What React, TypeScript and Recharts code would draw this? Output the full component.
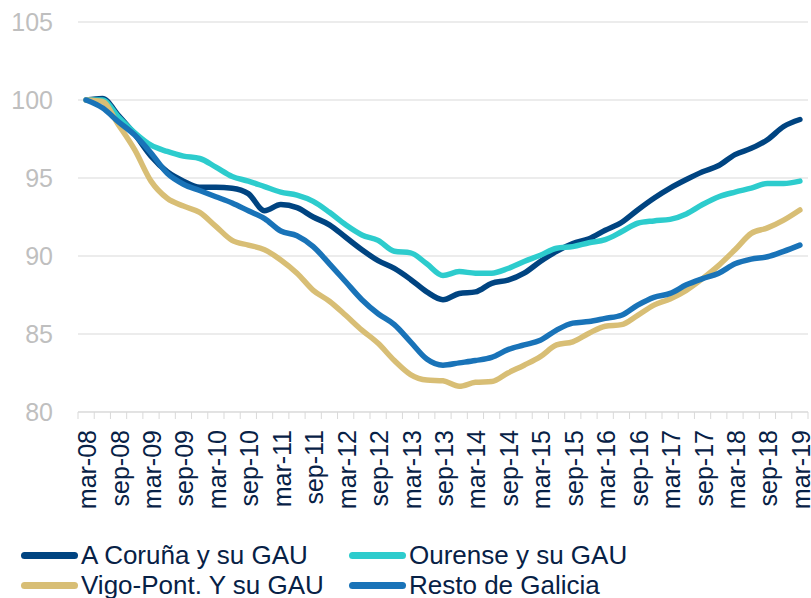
import { LineChart, Line, XAxis, YAxis, CartesianGrid } from 'recharts';

const quarters = [
  'mar-08', 'jun-08', 'sep-08', 'dic-08',
  'mar-09', 'jun-09', 'sep-09', 'dic-09',
  'mar-10', 'jun-10', 'sep-10', 'dic-10',
  'mar-11', 'jun-11', 'sep-11', 'dic-11',
  'mar-12', 'jun-12', 'sep-12', 'dic-12',
  'mar-13', 'jun-13', 'sep-13', 'dic-13',
  'mar-14', 'jun-14', 'sep-14', 'dic-14',
  'mar-15', 'jun-15', 'sep-15', 'dic-15',
  'mar-16', 'jun-16', 'sep-16', 'dic-16',
  'mar-17', 'jun-17', 'sep-17', 'dic-17',
  'mar-18', 'jun-18', 'sep-18', 'dic-18',
  'mar-19',
];

const coruna = [
  100, 100.1, 99.0, 97.8, 96.4, 95.4, 94.8, 94.4, 94.4, 94.35, 94.0, 92.9,
  93.3, 93.1, 92.5, 92.0, 91.2, 90.4, 89.7, 89.2, 88.5, 87.7, 87.2, 87.6,
  87.7, 88.25, 88.45, 88.9, 89.65, 90.3, 90.8, 91.1, 91.65, 92.15, 92.95, 93.7,
  94.35, 94.9, 95.4, 95.8, 96.5, 96.9, 97.45, 98.3, 98.75,
];

const ourense = [
  100, 100.0, 98.9, 97.9, 97.1, 96.7, 96.4, 96.25, 95.7, 95.1, 94.8, 94.45,
  94.1, 93.9, 93.5, 92.8, 92.0, 91.35, 91.0, 90.3, 90.2, 89.5, 88.75, 89.0,
  88.9, 88.9, 89.2, 89.65, 90.05, 90.5, 90.6, 90.85, 91.05, 91.55, 92.1, 92.25,
  92.35, 92.7, 93.3, 93.8, 94.1, 94.35, 94.65, 94.65, 94.8,
];

const vigo = [
  100, 99.9, 98.4, 96.8, 94.8, 93.7, 93.2, 92.8, 91.9, 91.0, 90.7, 90.4,
  89.75, 88.9, 87.8, 87.1, 86.2, 85.25, 84.4, 83.3, 82.4, 82.05, 82.0, 81.65,
  81.9, 81.95, 82.5, 83.0, 83.55, 84.3, 84.5, 85.05, 85.5, 85.6, 86.2, 86.85,
  87.25, 87.8, 88.55, 89.4, 90.4, 91.45, 91.8, 92.3, 92.95,
];

const resto = [
  100, 99.5, 98.6, 97.75, 96.6, 95.3, 94.6, 94.2, 93.8, 93.4, 92.9, 92.4,
  91.6, 91.3, 90.6, 89.5, 88.35, 87.2, 86.3, 85.6, 84.5, 83.4, 83.0, 83.15,
  83.3, 83.5, 84.0, 84.3, 84.6, 85.25, 85.7, 85.8, 86.0, 86.2, 86.85, 87.35,
  87.6, 88.15, 88.55, 88.9, 89.5, 89.8, 89.95, 90.3, 90.7,
];

const yTicks = [80, 85, 90, 95, 100, 105];

const series = [
  { key: 'coruna', name: 'A Coruña y su GAU', color: '#004481' },
  { key: 'ourense', name: 'Ourense y su GAU', color: '#2DCCCD' },
  { key: 'vigo', name: 'Vigo-Pont. Y su GAU', color: '#D8BE75' },
  { key: 'resto', name: 'Resto de Galicia', color: '#1973B8' },
];

const data = quarters.map((q, i) => ({
  i,
  q,
  coruna: coruna[i],
  ourense: ourense[i],
  vigo: vigo[i],
  resto: resto[i],
}));

// tick marks sit between quarters, labels on every other quarter
const xTicks: number[] = [];
for (let k = -0.5; k <= quarters.length - 0.5; k += 0.5) xTicks.push(k);

const font = '"Liberation Sans", Arial, sans-serif';

function QuarterTick({ x, y, payload }: any) {
  const v = payload.value as number;
  if (v % 1 !== 0) {
    return <line x1={x} y1={y} x2={x} y2={y + 7} stroke="#d9d9d9" strokeWidth={1} />;
  }
  if (v % 2 !== 0) return null;
  return (
    <text
      transform={`translate(${x + 1},${y + 18}) rotate(-90)`}
      textAnchor="end"
      dy="0.36em"
      fill="#072146"
      fontSize={25}
      fontFamily={font}
    >
      {quarters[v]}
    </text>
  );
}

function LegendItem({ name, color }: { name: string; color: string }) {
  return (
    <div style={{ display: 'flex', alignItems: 'center', height: 30 }}>
      <div style={{ width: 57, height: 7, borderRadius: 4, background: color, marginRight: 3 }} />
      <span style={{ fontSize: 26, color: '#072146', fontFamily: font, whiteSpace: 'nowrap' }}>{name}</span>
    </div>
  );
}

export default function App() {
  return (
    <div style={{ position: 'absolute', left: 0, top: 0, width: 811, height: 598, background: '#fff' }}>
      <LineChart width={811} height={598} data={data} margin={{ top: 22, right: 3, left: 0, bottom: 0 }}>
        <CartesianGrid vertical={false} stroke="#d9d9d9" />
        <XAxis
          dataKey="i"
          type="number"
          domain={[-0.5, quarters.length - 0.5]}
          ticks={xTicks}
          interval={0}
          height={186}
          tickSize={0}
          tickMargin={0}
          tickLine={false}
          axisLine={{ stroke: '#d9d9d9' }}
          tick={<QuarterTick />}
        />
        <YAxis
          domain={[80, 105]}
          ticks={yTicks}
          width={78}
          axisLine={false}
          tickLine={false}
          tickSize={0}
          tickMargin={25}
          tick={{ fill: '#bfbfbf', fontSize: 25, fontFamily: font }}
        />
        {series.map((s) => (
          <Line
            key={s.key}
            type="monotone"
            dataKey={s.key}
            name={s.name}
            stroke={s.color}
            strokeWidth={5.5}
            strokeLinecap="round"
            strokeLinejoin="round"
            dot={false}
            isAnimationActive={false}
          />
        ))}
      </LineChart>
      <div style={{ position: 'absolute', left: 21, top: 540, display: 'grid', gridTemplateColumns: '328px auto' }}>
        {series.map((s) => (
          <LegendItem key={s.key} name={s.name} color={s.color} />
        ))}
      </div>
    </div>
  );
}
